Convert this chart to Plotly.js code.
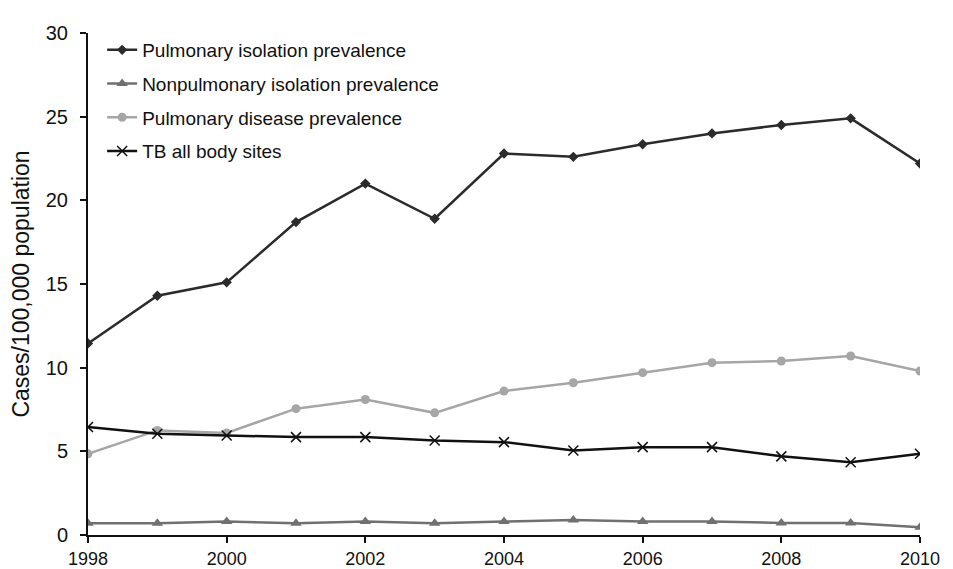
<!DOCTYPE html>
<html>
<head>
<meta charset="utf-8">
<script src="https://cdn.plot.ly/plotly-3.0.1.min.js"></script>
<style>html,body{margin:0;padding:0;background:#fff;}#chart{width:953px;height:569px;}</style>
</head>
<body>
<div id="chart"></div>
<script>
const years = [1998,1999,2000,2001,2002,2003,2004,2005,2006,2007,2008,2009,2010];
const pulmonaryIsolation = [11.45,14.3,15.1,18.7,21.0,18.9,22.8,22.6,23.35,24.0,24.5,24.9,22.2];
const nonpulmonaryIsolation = [0.7,0.7,0.8,0.7,0.8,0.7,0.8,0.9,0.8,0.8,0.72,0.72,0.47];
const pulmonaryDisease = [4.85,6.25,6.1,7.55,8.1,7.3,8.6,9.1,9.7,10.3,10.4,10.7,9.8];
const tbAllSites = [6.45,6.05,5.95,5.85,5.85,5.65,5.55,5.05,5.25,5.25,4.7,4.35,4.85];
const seriesNames = ["Pulmonary isolation prevalence","Nonpulmonary isolation prevalence","Pulmonary disease prevalence","TB all body sites"];
const yTicks = [0,5,10,15,20,25,30];
const xTicks = [1998,2000,2002,2004,2006,2008,2010];

const traces = [
  {x: years, y: pulmonaryIsolation, name: seriesNames[0], legendgroup:'a', mode:'lines+markers',
   line:{color:'#2b2b2b', width:2.5}, marker:{symbol:'diamond', size:8, color:'#2b2b2b'}},
  {x: years, y: nonpulmonaryIsolation, name: seriesNames[1], legendgroup:'b', mode:'lines+markers',
   line:{color:'#707070', width:2.5}, marker:{symbol:'triangle-up', size:10, color:'#707070'}},
  {x: years, y: pulmonaryDisease, name: seriesNames[2], legendgroup:'c', mode:'lines+markers',
   line:{color:'#a6a6a6', width:2.5}, marker:{symbol:'circle', size:9, color:'#a6a6a6'}},
  {x: years, y: tbAllSites, name: seriesNames[3], legendgroup:'d', mode:'lines+markers',
   line:{color:'#111111', width:2.5}, marker:{symbol:'x-thin', size:10, color:'#111111', line:{width:1.5, color:'#111111'}}}
];

const layout = {
  width: 953, height: 569,
  margin: {l:88, r:33, t:33, b:34},
  paper_bgcolor:'#fff', plot_bgcolor:'#fff',
  font: {family:'"Liberation Sans", Arial, sans-serif', color:'#111'},
  showlegend: true,
  legend: {x:0.017, y:1.004, xanchor:'left', yanchor:'top', bgcolor:'rgba(0,0,0,0)',
           font:{size:19, color:'#111'}, tracegroupgap:6, itemwidth:30},
  xaxis: {range:[1998,2010], tickvals:xTicks, ticktext:xTicks.map(String), showgrid:false, zeroline:false,
          showline:true, linecolor:'#111', linewidth:2, ticks:'outside', ticklen:6, tickwidth:2, tickcolor:'#111',
          tickfont:{size:18, color:'#111'}, fixedrange:true},
  yaxis: {range:[0,30], tickvals:yTicks, showgrid:false, zeroline:false,
          showline:true, linecolor:'#111', linewidth:2, ticks:'outside', ticklen:6, tickwidth:2, tickcolor:'#111',
          tickfont:{size:20, color:'#111'}, ticklabelstandoff:8,
          title:{text:'Cases/100,000 population', font:{size:23, color:'#111'}, standoff:10}}
};
Plotly.newPlot('chart', traces, layout, {displayModeBar:false, staticPlot:true});
</script>
</body>
</html>
